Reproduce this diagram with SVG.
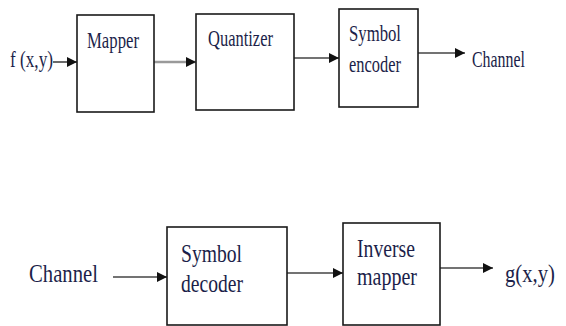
<svg xmlns="http://www.w3.org/2000/svg" width="566" height="326" viewBox="0 0 566 326">
  <style>
    .box { fill: #ffffff; stroke: #1a1a1a; stroke-width: 1.6; }
    .lbl { font-family: "Liberation Serif", "Times New Roman", serif; font-size: 23px; fill: #1c1f4a; }
    .lbl.big { font-size: 25px; }
    .wire { fill: none; stroke: #444444; stroke-width: 1.6; marker-end: url(#head); }
    .wire.soft { stroke: #9a9a9a; stroke-width: 2.4; }
  </style>
  <defs>
    <marker id="head" markerUnits="userSpaceOnUse" markerWidth="10" markerHeight="10" viewBox="0 0 10 10" refX="10" refY="5" orient="auto">
      <path d="M0,0 L10,5 L0,10 Z" fill="#111111"/>
    </marker>
  </defs>
  <rect width="566" height="326" fill="#ffffff"/>

  <!-- connectors -->
  <g id="connectors">
    <line class="wire" x1="53" y1="62" x2="77" y2="62"/>
    <line class="wire soft" x1="154" y1="62" x2="196" y2="62"/>
    <line class="wire" x1="294" y1="58" x2="339" y2="58"/>
    <line class="wire" x1="418" y1="53" x2="465" y2="53"/>
    <line class="wire" x1="113" y1="277" x2="167" y2="277"/>
    <line class="wire" x1="287" y1="273" x2="343" y2="273"/>
    <line class="wire" x1="440" y1="268" x2="493" y2="268"/>
  </g>

  <!-- input / output labels -->
  <g id="input-f">
    <text class="lbl" x="10" y="67" textLength="43" lengthAdjust="spacingAndGlyphs">f (x,y)</text>
  </g>
  <g id="channel-out">
    <text class="lbl" x="472" y="67" textLength="53" lengthAdjust="spacingAndGlyphs">Channel</text>
  </g>
  <g id="channel-in">
    <text class="lbl big" x="29" y="282" textLength="69" lengthAdjust="spacingAndGlyphs">Channel</text>
  </g>
  <g id="output-g">
    <text class="lbl big" x="505" y="282" textLength="50" lengthAdjust="spacingAndGlyphs">g(x,y)</text>
  </g>

  <!-- encoder chain -->
  <g id="mapper">
    <rect class="box" x="77" y="15" width="77" height="97"/>
    <text class="lbl" x="87" y="48" textLength="52" lengthAdjust="spacingAndGlyphs">Mapper</text>
  </g>
  <g id="quantizer">
    <rect class="box" x="196" y="14" width="98" height="96"/>
    <text class="lbl" x="208" y="46" textLength="65" lengthAdjust="spacingAndGlyphs">Quantizer</text>
  </g>
  <g id="symbol-encoder">
    <rect class="box" x="339" y="9" width="79" height="98"/>
    <text class="lbl" x="349" y="41" textLength="52" lengthAdjust="spacingAndGlyphs">Symbol</text>
    <text class="lbl" x="349" y="72" textLength="52" lengthAdjust="spacingAndGlyphs">encoder</text>
  </g>

  <!-- decoder chain -->
  <g id="symbol-decoder">
    <rect class="box" x="167" y="227" width="120" height="98"/>
    <text class="lbl big" x="181" y="262" textLength="61" lengthAdjust="spacingAndGlyphs">Symbol</text>
    <text class="lbl big" x="181" y="292" textLength="62" lengthAdjust="spacingAndGlyphs">decoder</text>
  </g>
  <g id="inverse-mapper">
    <rect class="box" x="343" y="223" width="97" height="102"/>
    <text class="lbl big" x="357" y="257" textLength="58" lengthAdjust="spacingAndGlyphs">Inverse</text>
    <text class="lbl big" x="357" y="285" textLength="60" lengthAdjust="spacingAndGlyphs">mapper</text>
  </g>
</svg>
